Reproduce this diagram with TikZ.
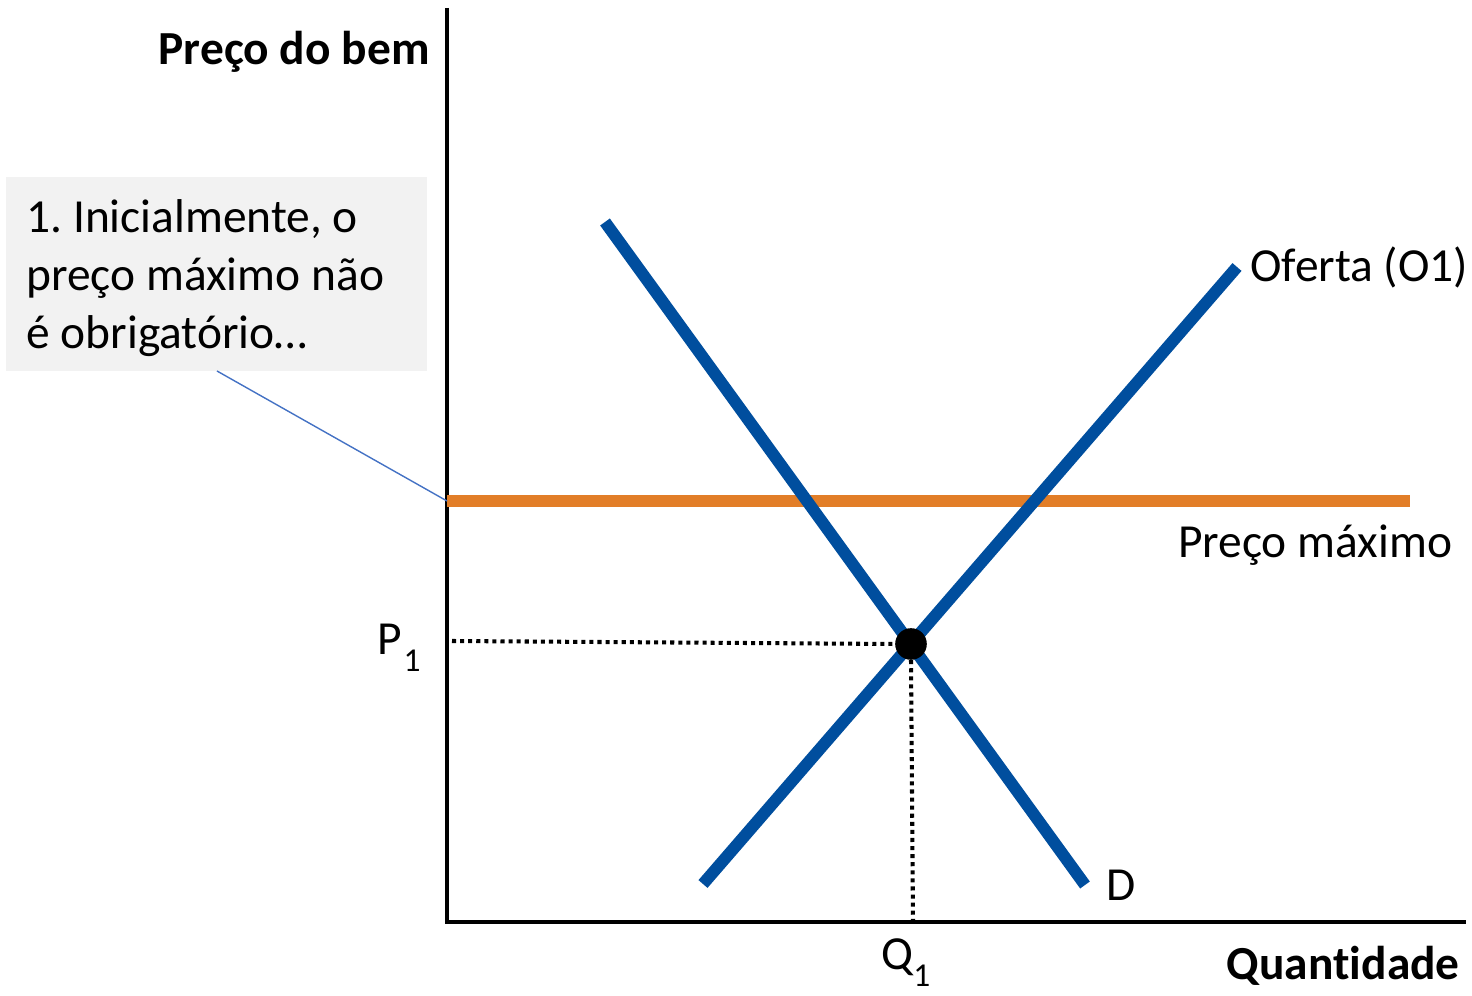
\documentclass[tikz,border=0pt]{standalone}
\usepackage{fontspec}
\setmainfont{Carlito}[Ligatures=NoCommon]
\usepackage{xcolor}
\definecolor{curveblue}{RGB}{0,78,158}
\definecolor{ceilorange}{RGB}{226,126,40}
\definecolor{calloutgray}{RGB}{242,242,242}
\definecolor{leaderblue}{RGB}{68,114,196}
\frenchspacing

\tikzset{
    lbl/.style={font=\fontsize{27}{33}\selectfont, inner sep=0pt},
    axlbl/.style={font=\fontsize{27}{33}\selectfont\bfseries, inner sep=0pt},
    curve/.style={line width=6.8pt, curveblue},
    guide/.style={line width=2.3pt, dash pattern=on 2.3pt off 2.3pt}
}
\newcommand{\sublbl}[3]{#1\kern#3\raisebox{-0.75ex}{\fontsize{19}{22}\selectfont #2}}

\begin{document}
\begin{tikzpicture}[x=0.02cm, y=-0.02cm]
    \useasboundingbox (0,0) rectangle (1472,996);

    % Axes
    \coordinate (origin) at (447,922);
    \coordinate (ytop) at (447,8);
    \coordinate (xend) at (1466,922);
    \draw[line width=2.3pt] (ytop) -- (origin) -- (xend);
    \node[axlbl, anchor=east] (ylabel) at (430,52) {Preço do bem};
    \node[axlbl, anchor=east] (xlabel) at (1460,966) {Quantidade};

    % Price ceiling
    \coordinate (ceilL) at (447,501);
    \coordinate (ceilR) at (1410,501);
    \draw[line width=6.8pt, ceilorange] (ceilL) -- (ceilR);
    \node[lbl] (ceillabel) at (1315,545) {Preço máximo};

    % Demand and supply
    \coordinate (dTop) at (605,222);
    \coordinate (dBot) at (1085,885);
    \coordinate (sBot) at (703,884);
    \coordinate (sTop) at (1237,267);
    \draw[curve] (dTop) -- (dBot);
    \draw[curve] (sBot) -- (sTop);
    \node[lbl, anchor=west] (dlabel) at (1106,885) {D};
    \node[lbl, anchor=west] (slabel) at (1250,267) {Oferta (O1)};

    % Equilibrium
    \node[circle, fill=black, minimum size=18pt, inner sep=0pt] (eq) at (911,644) {};
    \coordinate (pAxis) at (452,641);
    \coordinate (qAxis) at (913,922);
    \draw[guide] (pAxis) -- (eq.west);
    \draw[guide] (eq.south) -- (qAxis);
    \node[lbl, anchor=west] (p1) at (377,648) {\sublbl{P}{1}{1pt}};
    \node[lbl, anchor=west] (q1) at (881,963) {\sublbl{Q}{1}{0pt}};

    % Callout
    \node[fill=calloutgray, minimum width=421*0.02cm, minimum height=194*0.02cm,
        anchor=north west] (callout) at (6,177) {};
    \node[lbl, anchor=north west, align=left] (callouttext) at (26,199)
        {1. Inicialmente, o\\preço máximo não\\é obrigatório…};
    \coordinate (calloutfoot) at (217,371);
    \draw[leaderblue, line width=0.8pt] (calloutfoot) -- (ceilL);

\end{tikzpicture}
\end{document}
